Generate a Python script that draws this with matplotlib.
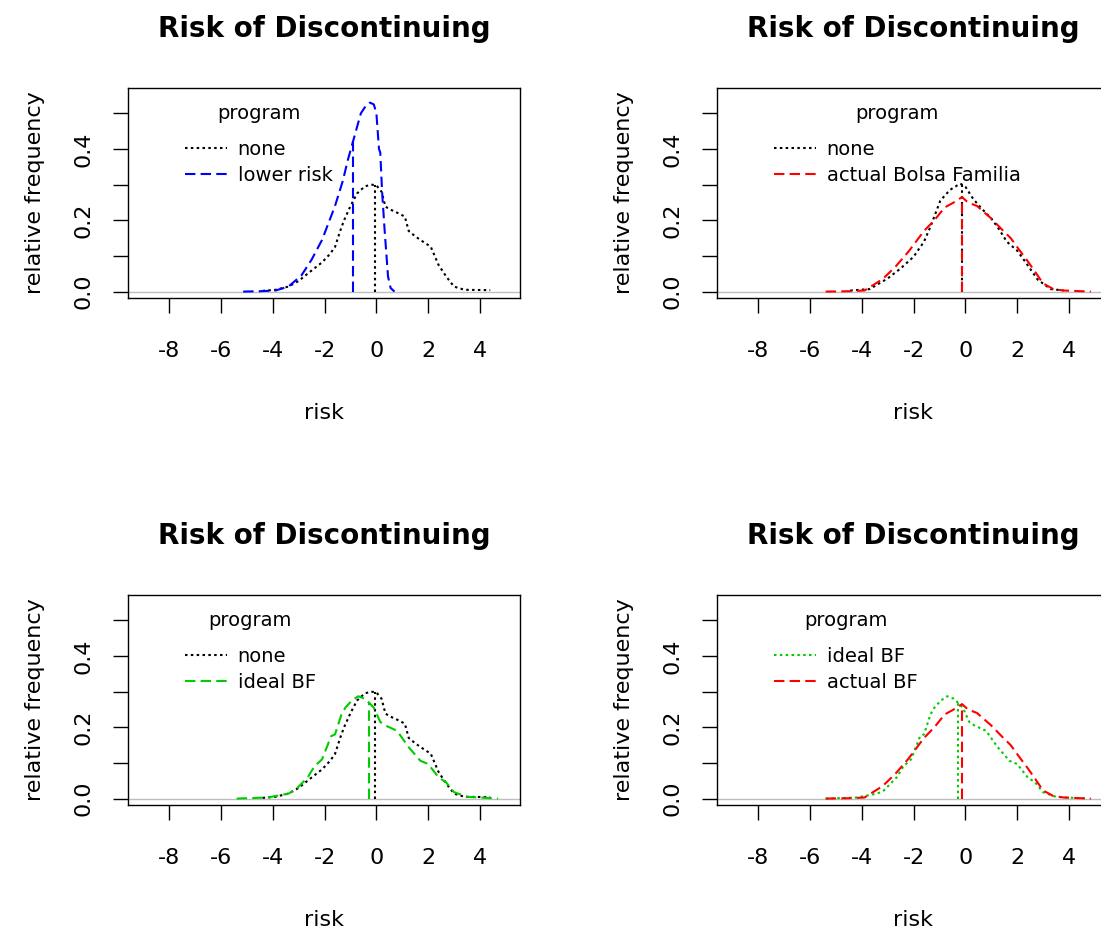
import numpy as np
import matplotlib
matplotlib.use("Agg")
import matplotlib.pyplot as plt

# density curves (x = risk, y = relative frequency)
none_x = [-4.4, -3.9, -3.4, -3.0, -2.8, -2.4, -2.1, -1.8, -1.6, -1.4, -1.25, -1.0,
          -0.75, -0.45, -0.2, 0.0, 0.2, 0.35, 0.6, 0.9, 1.1, 1.25, 1.5, 1.8, 2.1,
          2.4, 2.7, 3.0, 3.4, 4.4]
none_y = [0.002, 0.005, 0.014, 0.03, 0.042, 0.065, 0.082, 0.105, 0.125, 0.17, 0.2, 0.24,
          0.275, 0.295, 0.3, 0.298, 0.28, 0.238, 0.228, 0.218, 0.21, 0.17, 0.155, 0.14, 0.126,
          0.075, 0.042, 0.014, 0.005, 0.004]

lower_x = [-5.15, -4.5, -3.9, -3.4, -2.9, -2.5, -2.1, -1.6, -1.3, -1.1, -0.85, -0.6,
           -0.4, -0.25, -0.1, 0.0, 0.1, 0.15, 0.22, 0.32, 0.45, 0.55, 0.7]
lower_y = [0.0, 0.001, 0.003, 0.014, 0.045, 0.09, 0.145, 0.24, 0.31, 0.37, 0.435, 0.50,
           0.522, 0.53, 0.525, 0.50, 0.40, 0.39, 0.28, 0.17, 0.042, 0.01, 0.0]

none2_x = [-4.45, -3.7, -3.0, -2.5, -2.0, -1.6, -1.35, -0.97, -0.6, -0.2, 0.0, 0.3, 0.6,
           1.0, 1.3, 1.6, 2.0, 2.3, 2.8, 3.3, 3.8]
none2_y = [0.003, 0.007, 0.037, 0.065, 0.098, 0.14, 0.182, 0.255, 0.285, 0.303, 0.294,
           0.26, 0.235, 0.205, 0.175, 0.14, 0.115, 0.085, 0.033, 0.007, 0.003]

actual_x = [-5.4, -4.5, -3.9, -3.2, -2.7, -2.2, -1.6, -1.2, -0.8, -0.45, -0.13, 0.1, 0.45,
            1.0, 1.4, 1.75, 2.1, 2.4, 2.7, 3.0, 3.4, 3.8, 4.85]
actual_y = [0.0, 0.001, 0.003, 0.035, 0.07, 0.112, 0.17, 0.20, 0.236, 0.25, 0.265, 0.25,
            0.24, 0.205, 0.175, 0.15, 0.115, 0.086, 0.055, 0.023, 0.007, 0.003, 0.0]

ideal_x = [-5.4, -4.2, -3.4, -3.15, -2.65, -2.4, -2.1, -1.75, -1.6, -1.35, -1.2, -0.95,
           -0.7, -0.45, -0.3, -0.1, 0.15, 0.35, 0.8, 1.25, 1.7, 2.0, 2.4, 2.7, 3.0, 3.5, 4.7]
ideal_y = [0.0, 0.003, 0.014, 0.023, 0.06, 0.09, 0.11, 0.175, 0.18, 0.236, 0.255, 0.275,
           0.287, 0.28, 0.27, 0.255, 0.215, 0.205, 0.19, 0.144, 0.106, 0.097, 0.06, 0.045,
           0.018, 0.005, 0.0]

# means (vertical lines)
mean_none = -0.06
mean_none2 = -0.15
mean_lower = -0.9
mean_actual = -0.13
mean_ideal = -0.3

x_ticks = [-8, -6, -4, -2, 0, 2, 4]
y_ticks = [0.0, 0.1, 0.2, 0.3, 0.4, 0.5]
y_ticklabels = ["0.0", "", "0.2", "", "0.4", ""]

DASHED = (5, 2.5)
DOTTED = (1.2, 1.6)

plt.rcParams['font.family'] = ['DejaVu Sans']

fig = plt.figure(figsize=(11.01, 9.35), dpi=100)
W, H = 1101.0, 935.0


def panel(left_px, top_px, series):
    ax = fig.add_axes([left_px / W, (H - top_px - 210) / H, 392 / W, 210 / H])
    ax.set_xlim(-9.6, 5.55)
    ax.set_ylim(-0.018, 0.571)
    ax.axhline(0, color="#BEBEBE", lw=1, zorder=1)
    handles = []
    for xs, ys, m, col, dash, lab in series:
        ln, = ax.plot(xs, ys, color=col, lw=1.5, dashes=dash, label=lab)
        ax.plot([m, m], [0, np.interp(m, xs, ys)], color=col, lw=1.5, dashes=dash)
        handles.append(ln)
    ax.set_xticks(x_ticks)
    ax.set_xticklabels([str(t) for t in x_ticks])
    ax.set_yticks(y_ticks)
    ax.set_yticklabels(y_ticklabels)
    ax.tick_params(axis="both", direction="out", length=11, width=1, labelsize=16)
    ax.tick_params(axis="x", pad=20)
    ax.tick_params(axis="y", pad=14, labelrotation=90)
    for lab in ax.get_yticklabels():
        lab.set_va("center")
    for s in ax.spines.values():
        s.set_linewidth(1)
    ax.set_title("Risk of Discontinuing", fontsize=20, fontweight="bold", pad=37)
    ax.set_xlabel("risk", fontsize=16)
    ax.xaxis.set_label_coords(0.5, -0.50)
    ax.set_ylabel("relative frequency", fontsize=16)
    ax.yaxis.set_label_coords(-0.212, 0.5)
    leg = ax.legend(handles=handles, loc="upper left", bbox_to_anchor=(0.145, 0.924),
                    frameon=False, fontsize=14, title="program", title_fontsize=14,
                    handlelength=2.15, handletextpad=0.57, labelspacing=0.39,
                    borderpad=0, borderaxespad=0)
    leg._legend_box.sep = 12
    return ax


panel(128, 88, [
    (none_x, none_y, mean_none, "black", DOTTED, "none"),
    (lower_x, lower_y, mean_lower, "#0000FF", DASHED, "lower risk"),
])
panel(717, 88, [
    (none2_x, none2_y, mean_none2, "black", DOTTED, "none"),
    (actual_x, actual_y, mean_actual, "#FF0000", DASHED, "actual Bolsa Familia"),
])
panel(128, 595, [
    (none_x, none_y, mean_none, "black", DOTTED, "none"),
    (ideal_x, ideal_y, mean_ideal, "#00CD00", DASHED, "ideal BF"),
])
panel(717, 595, [
    (ideal_x, ideal_y, mean_ideal, "#00CD00", DOTTED, "ideal BF"),
    (actual_x, actual_y, mean_actual, "#FF0000", DASHED, "actual BF"),
])

fig.savefig("out.png", dpi=100)
